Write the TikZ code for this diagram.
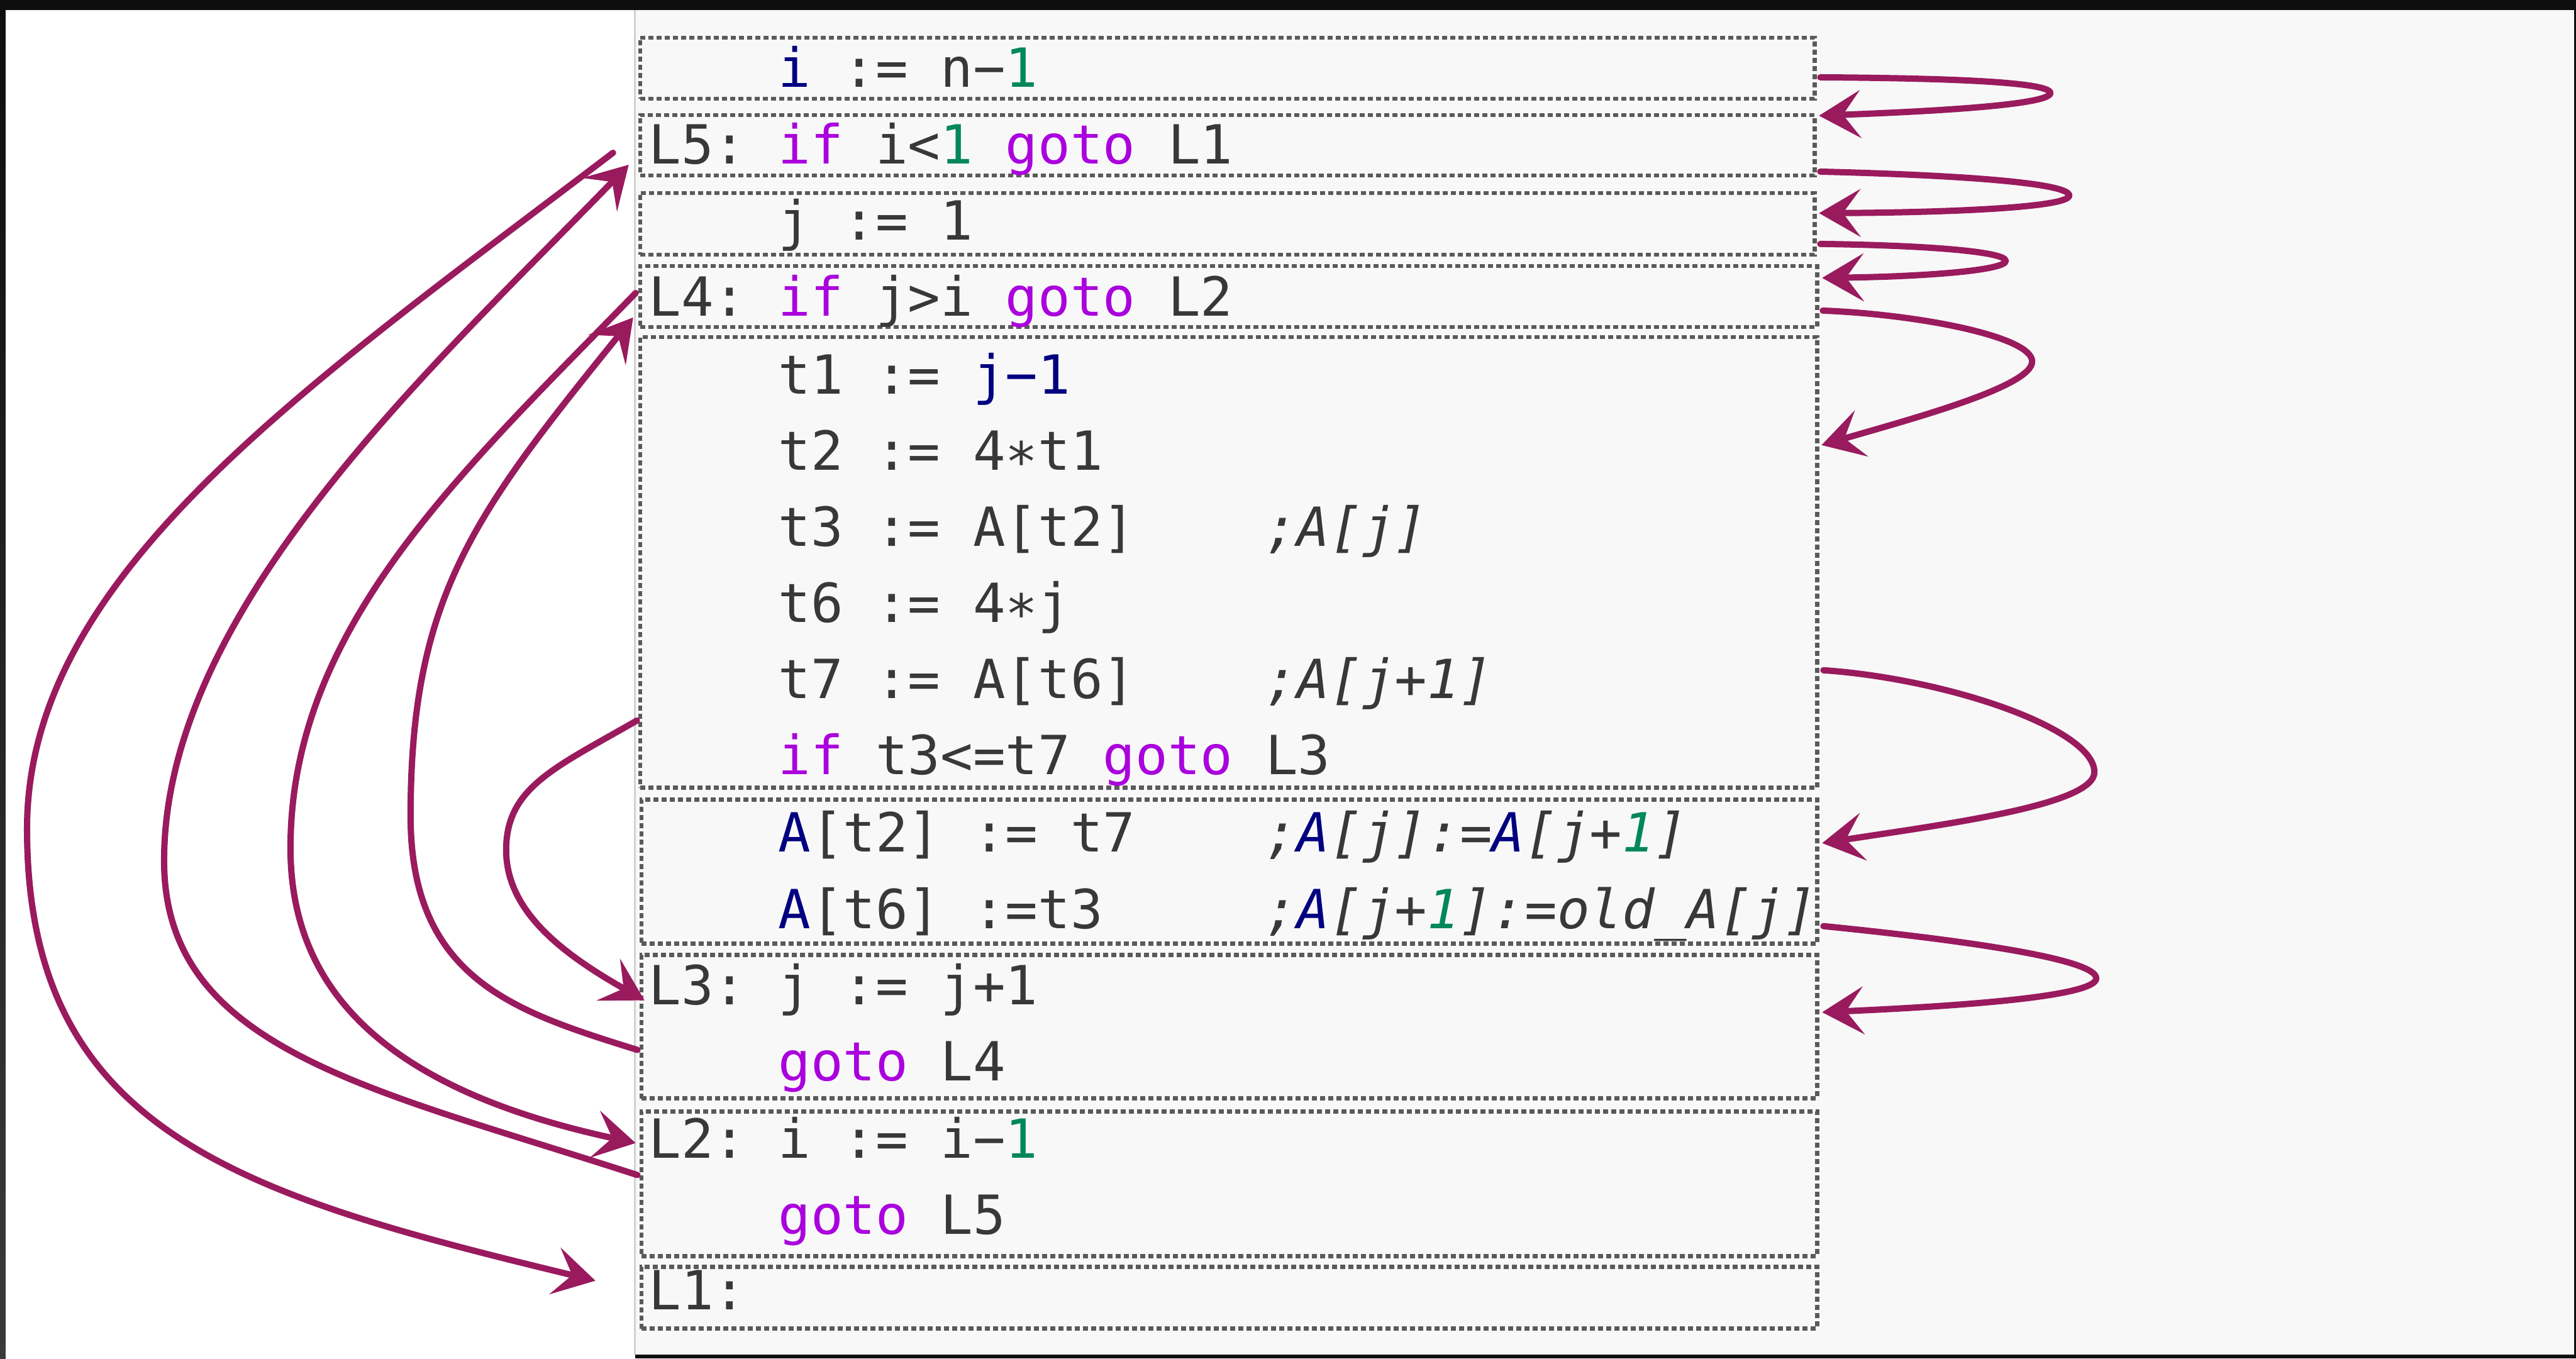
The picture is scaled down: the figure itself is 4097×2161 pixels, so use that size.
\documentclass[tikz,border=0pt]{standalone}
\usepackage{fontspec}
\usetikzlibrary{arrows.meta,fit}
\newfontfamily\codefont{DejaVu Sans Mono}

\definecolor{framedark}{HTML}{0E0E0E}
\definecolor{stripgray}{HTML}{3A3A3A}
\definecolor{panelgray}{HTML}{F8F8F8}
\definecolor{dotgray}{HTML}{5A5A5A}
\definecolor{codegray}{HTML}{383838}
\definecolor{kwpurple}{HTML}{AA00DD}
\definecolor{numgreen}{HTML}{00875A}
\definecolor{varnavy}{HTML}{000080}
\definecolor{jumpred}{HTML}{9A1A5E}

\newcommand\kw[1]{\textcolor{kwpurple}{#1}}
\newcommand\nm[1]{\textcolor{numgreen}{#1}}
\newcommand\vr[1]{\textcolor{varnavy}{#1}}

\tikzset{
  codebox/.style={rectangle, draw=dotgray, line width=0.065cm,
    dash pattern=on 0.08cm off 0.05cm, inner sep=0pt, outer sep=0pt},
  code/.style={font=\codefont\fontsize{24.4pt}{30pt}\selectfont,
    text=codegray, inner sep=0pt, anchor=base west},
  note/.style={code, font=\codefont\itshape\fontsize{24.4pt}{30pt}\selectfont},
  jump/.style={draw=jumpred, line width=0.10cm, line cap=round, line join=round,
    -{Stealth[length=0.66cm,width=0.76cm,inset=0.28cm]}},
}

\begin{document}
\begin{tikzpicture}[x=0.01cm, y=-0.01cm]
\useasboundingbox (0,0) rectangle (4097,2161);

% frame, white margin and code panel
\fill[framedark] (0,0) rectangle (4097,2161);
\shade[top color=framedark, bottom color=stripgray] (0,0) rectangle (9,2161);
\fill[white] (9,16) rectangle (1010,2161);
\fill[panelgray] (1010,16) rectangle (4094,2155);
\draw[line width=0.03cm, draw=black!18] (1010,16) -- (1010,2155);

% basic blocks
\node[codebox, fit={(1018,60)(2886,157)}]    (b1) {};
\node[codebox, fit={(1018,183)(2886,279)}]   (b2) {};
\node[codebox, fit={(1018,307)(2886,405)}]   (b3) {};
\node[codebox, fit={(1018,423)(2890,520)}]   (b4) {};
\node[codebox, fit={(1018,536)(2890,1253)}]  (b5) {};
\node[codebox, fit={(1020,1272)(2890,1501)}] (b6) {};
\node[codebox, fit={(1020,1519)(2890,1747)}] (b7) {};
\node[codebox, fit={(1020,1768)(2890,1998)}] (b8) {};
\node[codebox, fit={(1020,2015)(2890,2113)}] (b9) {};

% three-address code
\node[code] (l1)   at (1237,139)  {\vr{i} := n−\nm{1}};
\node[code] (lab5) at (1031,261)  {L5:};
\node[code] (l2)   at (1237,261)  {\kw{if} i<\nm{1} \kw{goto} L1};
\node[code] (l3)   at (1237,382)  {j := 1};
\node[code] (lab4) at (1031,503)  {L4:};
\node[code] (l4)   at (1237,503)  {\kw{if} j>i \kw{goto} L2};
\node[code] (l5a)  at (1237,627)  {t1 := \vr{j−1}};
\node[code] (l5b)  at (1237,748)  {t2 := 4∗t1};
\node[code] (l5c)  at (1237,869)  {t3 := A[t2]};
\node[note] (c5c)  at (2011,869)  {;A[j]};
\node[code] (l5d)  at (1237,990)  {t6 := 4∗j};
\node[code] (l5e)  at (1237,1111) {t7 := A[t6]};
\node[note] (c5e)  at (2011,1111) {;A[j+1]};
\node[code] (l5f)  at (1237,1232) {\kw{if} t3<=t7 \kw{goto} L3};
\node[code] (l6a)  at (1237,1355) {\vr{A}[t2] := t7};
\node[note] (c6a)  at (2011,1355) {;\vr{A}[j]:=\vr{A}[j+\nm{1}]};
\node[code] (l6b)  at (1237,1477) {\vr{A}[t6] :=t3};
\node[note] (c6b)  at (2011,1477) {;\vr{A}[j+\nm{1}]:=old\_A[j]};
\node[code] (lab3) at (1031,1598) {L3:};
\node[code] (l7a)  at (1237,1598) {j := j+1};
\node[code] (l7b)  at (1237,1719) {\kw{goto} L4};
\node[code] (lab2) at (1031,1842) {L2:};
\node[code] (l8a)  at (1237,1842) {i := i−\nm{1}};
\node[code] (l8b)  at (1237,1963) {\kw{goto} L5};
\node[code] (lab1) at (1031,2083) {L1:};

% fall-through edges on the right
\draw[jump] ([shift={(9,63)}]b1.north east)
  .. controls (3050,124) and (3261,128) .. (3261,148)
  .. controls (3261,168) and (3050,178) .. ([shift={(7,1)}]b2.north east);
\draw[jump] ([shift={(9,90)}]b2.north east)
  .. controls (3100,278) and (3291,290) .. (3291,311)
  .. controls (3291,330) and (3100,338) .. ([shift={(7,32)}]b3.north east);
\draw[jump] ([shift={(9,81)}]b3.north east)
  .. controls (3060,390) and (3190,400) .. (3190,415)
  .. controls (3190,430) and (3060,440) .. ([shift={(8,19)}]b4.north east);
\draw[jump] ([shift={(9,71)}]b4.north east)
  .. controls (3050,500) and (3232,535) .. (3232,575)
  .. controls (3232,615) and (3041,666) .. ([shift={(7,172)}]b5.north east);
\draw[jump] ([shift={(10,530)}]b5.north east)
  .. controls (3100,1080) and (3331,1160) .. (3331,1228)
  .. controls (3331,1280) and (3100,1310) .. ([shift={(8,69)}]b6.north east);
\draw[jump] ([shift={(10,201)}]b6.north east)
  .. controls (3120,1495) and (3334,1525) .. (3334,1556)
  .. controls (3334,1585) and (3120,1600) .. ([shift={(8,91)}]b7.north east);

% jumps on the left
\draw[jump] ([shift={(-43,60)}]b2.north west)
  .. controls (475,623) and (43,918) .. (43,1318)
  .. controls (43,1800) and (380,1900) .. ([shift={(-73,22)}]b9.north west);
\draw[jump] ([shift={(-6,101)}]b8.north west)
  .. controls (586,1730) and (261,1669) .. (261,1369)
  .. controls (261,969) and (687,585) .. ([shift={(-18,79)}]b2.north west);
\draw[jump] ([shift={(-7,43)}]b4.north west)
  .. controls (731,754) and (462,999) .. (462,1349)
  .. controls (462,1600) and (650,1740) .. ([shift={(-9,50)}]b8.north west);
\draw[jump] ([shift={(-6,151)}]b7.north west)
  .. controls (823,1610) and (653,1560) .. (653,1298)
  .. controls (653,948) and (755,817) .. ([shift={(-11,82)}]b4.north west);
\draw[jump] ([shift={(-5,610)}]b5.north west)
  .. controls (883,1221) and (805,1252) .. (805,1352)
  .. controls (805,1452) and (900,1520) .. ([shift={(5,72)}]b7.north west);
\end{tikzpicture}
\end{document}
